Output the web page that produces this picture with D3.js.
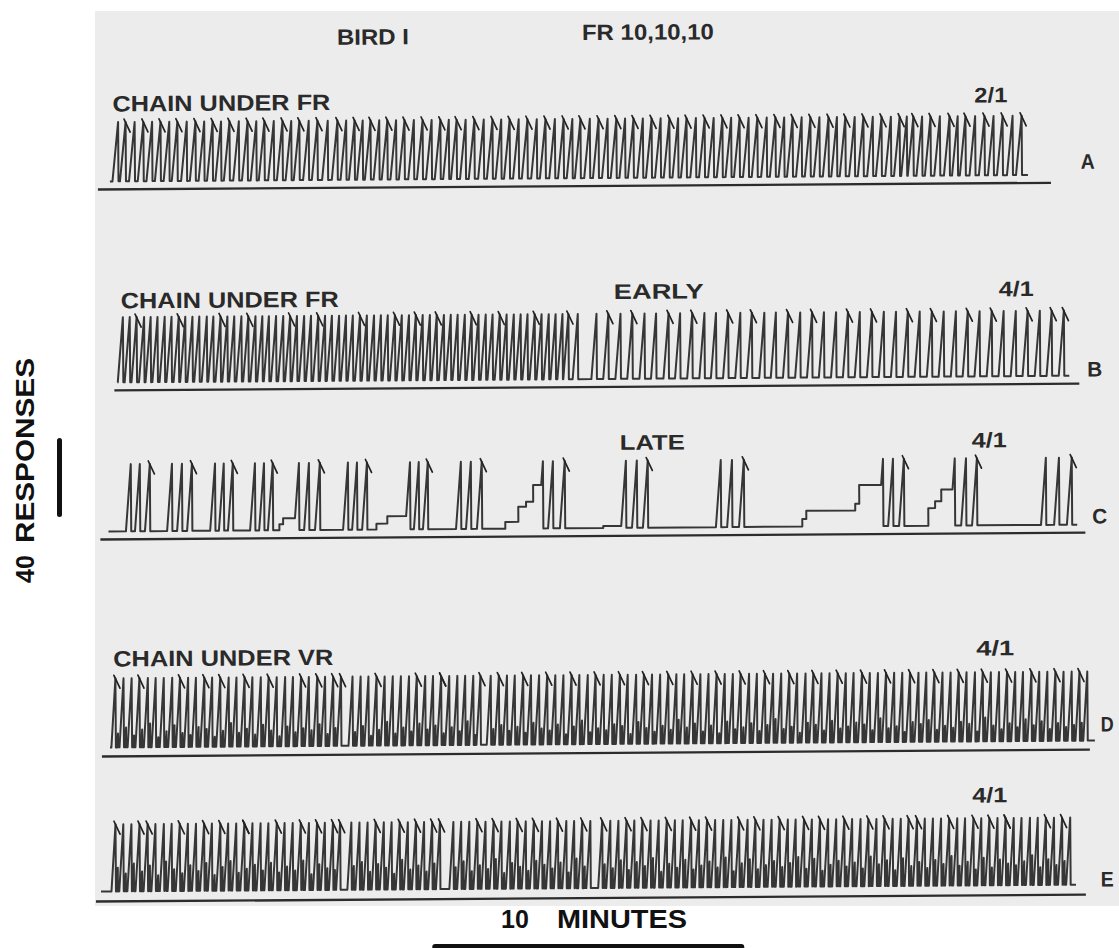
<!DOCTYPE html>
<html><head><meta charset="utf-8">
<script src="https://cdn.jsdelivr.net/npm/d3@7"></script>
<style>html,body{margin:0;padding:0;background:#fff;} svg{display:block;}</style>
</head><body>
<svg id="chart" width="1119" height="948"></svg>
<script>
// ---------------- DATA (time in minutes, pen height in responses) ----------------
const headerTexts = ["BIRD I", "FR 10,10,10"];
const panelLetters = ["A", "B", "C", "D", "E"];
const panelDates = ["2/1", "4/1", "4/1", "4/1", "4/1"];
const panelTitles = ["CHAIN UNDER FR", "CHAIN UNDER FR", "", "CHAIN UNDER VR", ""];
const panelNotes = ["", "EARLY", "LATE", "", ""];
const axisLabelY = ["40", "RESPONSES"];
const axisLabelX = ["10", "MINUTES"];
const scaleResponses = 40;
const scaleMinutes = 10;

// typical pen excursion height (responses) per record
const excursionHeight = [30, 33, 34, 35, 34];
// running rate (responses / min) per record
const runRate = [155, 185, 200, 243, 236];
// record start / end (min)
const recordStart = [0.385, 0.58, 0.26, 0.26, -0.06];
const recordEnd = [29.81, 31.09, 31.31, 31.83, 31.19];

// A: resets (reinforcements) without / with hatch mark
const aPlain = [0.66,1.19,1.75,2.30,2.86,3.42,3.96,4.53,5.09,5.65,6.21,6.77,7.38,7.97,8.50,9.03,9.57,10.14,10.71,11.26,11.80,12.38,12.94,13.50,14.08,14.66,15.22,15.78,16.35,16.91,17.48,18.05,18.61,19.18,19.75,20.31,20.87,21.45,22.01,22.57,23.14,23.70,24.27,24.85,25.43,25.94,26.43,27.00,27.57,28.13,28.72,29.33];
const aHook = [0.90,1.47,2.02,2.56,3.14,3.69,4.23,4.81,5.35,5.93,6.47,7.05,7.69,8.24,8.75,9.29,9.84,10.42,10.99,11.51,12.08,12.66,13.21,13.78,14.36,14.94,15.48,16.06,16.63,17.18,17.76,18.33,18.88,19.46,20.03,20.58,21.15,21.73,22.28,22.85,23.43,23.97,24.55,25.13,25.71,26.15,26.70,27.31,27.82,28.43,29.01,29.62];

// B
const bPlain = [0.77,0.99,1.45,1.66,1.88,2.11,2.33,2.77,3.00,3.22,3.46,3.67,4.12,4.34,4.57,5.02,5.24,5.45,5.68,5.91,6.35,6.58,6.80,7.25,7.47,7.70,7.92,8.14,8.59,8.82,9.04,9.26,9.71,9.94,10.38,10.61,11.06,11.28,11.50,11.73,12.17,12.40,12.62,13.07,13.30,13.52,13.74,14.19,14.42,14.64,14.86,15.35,
  15.95,16.72,17.49,17.86,18.63,19.41,19.78,20.56,21.33,21.70,22.48,23.24,23.63,24.39,25.16,25.55,26.31,27.08,27.47,28.23,29.00,29.39,30.16];
const bHook = [1.21,2.56,3.90,4.79,6.13,7.03,8.37,9.49,10.16,10.83,11.95,12.85,13.97,15.05,
  16.33,17.10,18.26,19.02,20.17,20.93,22.09,22.86,24.01,24.78,25.93,26.70,27.85,28.62,29.77,30.54,30.93];

// C (late): bursts separated by pauses, with slow stair-steps during pauses
const cPlain = [0.99,1.28,2.31,2.63,3.69,3.97,4.97,5.26,6.38,6.70,7.95,8.24,9.94,10.22,11.57,11.89,14.20,14.52,16.86,17.21,19.90,20.26,25.10,25.42,27.40,27.76,30.32,30.74];
const cHook = [1.60,2.95,4.26,5.54,7.05,8.56,10.51,12.24,14.90,17.56,20.64,25.77,28.11,31.15];
const cSteps = [[5.74,3],[5.86,6],[8.85,3],[9.20,6.7],[12.98,3.4],[13.40,11],[13.65,13.5],[13.88,22],[16.12,1],[22.50,3.8],[22.63,8],[24.20,11.4],[24.33,20.8],[26.54,8.9],[26.76,12.3],[26.96,18.3]];

// D (VR): tall excursions, short bursts before each, hatch marks
const dTall = [0.45,0.71,0.97,1.22,1.49,1.74,2.00,2.27,2.52,2.78,3.03,3.30,3.55,3.81,4.08,4.33,4.59,4.84,5.11,5.36,5.62,5.89,6.14,6.40,6.65,6.92,7.17,7.43,7.68,8.05,8.31,8.56,8.82,9.08,9.34,9.60,9.86,10.11,10.38,10.63,10.89,11.15,11.41,11.66,11.92,12.15,12.48,12.74,13.00,13.25,13.52,13.77,14.03,14.29,14.55,14.81,15.07,15.32,15.59,15.84,16.10,16.36,16.62,16.87,17.14,17.39,17.65,17.91,18.17,18.43,18.68,18.95,19.20,19.46,19.72,19.98,20.24,20.49,20.76,21.01,21.27,21.53,21.79,22.05,22.30,22.57,22.82,23.08,23.34,23.60,23.86,24.11,24.38,24.63,24.89,25.15,25.41,25.67,25.92,26.19,26.44,26.70,26.96,27.22,27.48,27.73,28.00,28.25,28.51,28.77,29.03,29.29,29.54,29.81,30.06,30.32,30.58,30.84,31.10,31.35,31.60];
const dShort = [0,7,10,6,9,12,5,8,11,7, 6,10,9,5,8,12,7,9,6,11, 8,5,10,7,9,8,11,6,9,0, 7,10,5,8,12,6,9,7,11,8, 10,6,9,7,12,5,0,8,10,7, 9,6,11,8,7,10,5,9,12,6, 8,7,10,9,5,11,8,6,9,7, 12,8,10,6,9,5,11,7,8,10, 6,9,12,7,8,5,10,9,6,11, 7,8,10,9,6,12,7,8,5,10, 9,11,6,8,7,10,9,5,12,8, 6,9,7,11,8,10,6,9,7,8,9];
const dHook = [0.48,1.28,2.47,3.21,3.75,4.49,5.45,6.31,6.83,7.47,7.69,8.88,10.03,10.80,10.99,12.08,12.74,13.52,14.29,15.07,15.84,16.62,17.39,18.17,18.95,19.72,20.49,21.27,22.05,22.82,23.60,24.38,25.15,25.92,26.70,27.48,28.25,29.03,29.81,30.58,31.35];

// E (VR)
const eTall = [0.42,0.67,0.93,1.19,1.45,1.70,1.97,2.22,2.48,2.74,3.00,3.26,3.51,3.78,4.03,4.29,4.55,4.81,5.07,5.32,5.59,5.84,6.10,6.36,6.62,6.88,7.13,7.39,7.62,7.98,8.24,8.50,8.76,9.02,9.27,9.53,9.79,10.05,10.31,10.57,10.82,11.25,11.50,11.76,12.02,12.28,12.54,12.79,13.06,13.31,13.57,13.83,14.09,14.35,14.60,14.87,15.12,15.38,15.64,16.02,16.28,16.54,16.80,17.05,17.31,17.57,17.83,18.09,18.35,18.60,18.87,19.12,19.38,19.64,19.90,20.16,20.41,20.68,20.93,21.19,21.45,21.71,21.97,22.22,22.49,22.74,23.00,23.26,23.52,23.78,24.03,24.30,24.55,24.81,25.07,25.33,25.59,25.84,26.11,26.36,26.62,26.88,27.14,27.40,27.65,27.92,28.17,28.43,28.69,28.95,29.21,29.46,29.73,29.98,30.24,30.50,30.76,31.02];
const eShort = [0,12,9,14,10,13,8,15,11,9, 13,10,14,8,12,15,9,11,13,10, 14,9,12,10,15,8,13,11,10,0, 12,14,9,13,11,8,15,10,12,9, 13,0,11,14,9,12,10,15,8,13, 11,9,14,12,10,13,8,15,11,0, 12,10,14,9,13,11,15,8,12,10, 14,9,11,13,10,15,8,12,14,9, 11,13,10,12,15,9,14,8,11,13, 10,12,9,15,11,13,8,14,10,12, 9,13,11,15,10,12,8,14,9,13, 11,10,12,15,9,13,10,12];
const eHook = [0.48,1.12,1.38,2.50,3.37,3.78,4.42,4.65,5.67,6.41,6.89,7.47,7.60,8.75,9.55,10.03,10.67,10.83,11.92,12.56,13.30,13.90,14.60,15.30,16.10,16.70,17.40,18.20,18.80,19.50,20.30,20.90,21.60,22.40,23.00,23.70,24.50,25.10,25.87,26.06,27.08,27.88,28.30,28.91,29.07,30.13,30.87];

// ---------------- LAYOUT ----------------
const INK = "#222";
const FONT = "'Liberation Sans', Arial, Helvetica, sans-serif";
const layout = [
  {base:178, line:186, lineX:[100,1053], title:[115,108,218], note:null, date:[977,105,33], letter:[1083,172,14]},
  {base:379, line:387, lineX:[115,1080], title:[122,305,218], note:[615,299,90], date:[1000,299,35], letter:[1088,380,15]},
  {base:528, line:536, lineX:[100,1085], title:null, note:[620,450,65], date:[972,450,35], letter:[1092,527,15]},
  {base:744, line:753, lineX:[100,1088], title:[112,663,220], note:null, date:[975,658,38], letter:[1099,735,13]},
  {base:888, line:898, lineX:[93,1083], title:null, note:null, date:[970,805,35], letter:[1098,890,13]}
];
const records = [
  {ends:aPlain.concat(aHook), hooks:aHook, steps:[], shorts:null},
  {ends:bPlain.concat(bHook), hooks:bHook, steps:[], shorts:null},
  {ends:cPlain.concat(cHook), hooks:cHook, steps:cSteps, shorts:null},
  {ends:dTall, hooks:dHook, steps:[], shorts:dShort},
  {ends:eTall, hooks:eHook, steps:[], shorts:eShort}
];

const svg = d3.select("#chart");
svg.append("rect").attr("x",95).attr("y",11).attr("width",1024).attr("height",895).attr("fill","#ececec");

const page = svg.append("g").attr("transform","rotate(-0.4,600,480)");
const x = d3.scaleLinear().domain([0,32]).range([100,1098.4]);
const yR = d3.scaleLinear().domain([0,40]).range([0,-79]);

function txt(parent, s, xx, yy, w, size){
  const t = parent.append("text").attr("x",xx).attr("y",yy).text(s)
    .attr("font-family",FONT).attr("font-weight","bold").attr("font-size",size)
    .attr("fill","#2a2a2a");
  if (w) t.attr("textLength",w).attr("lengthAdjust","spacingAndGlyphs");
  return t;
}

txt(page, headerTexts[0], 340, 43, 72, 22);
txt(page, headerTexts[1], 585, 40, 132, 22);

records.forEach((rec, k) => {
  const L = layout[k];
  const H = excursionHeight[k], R = runRate[k];
  const ev = [];
  rec.ends.forEach(t => ev.push({t, kind:"ex"}));
  rec.steps.forEach(s => ev.push({t:s[0], kind:"st", lv:s[1]}));
  ev.sort((a,b)=>a.t-b.t);
  const pts = [[recordStart[k],0]];
  let lv = 0, cur = recordStart[k], exIdx = 0;
  ev.forEach(e => {
    if (e.kind === "st") { pts.push([e.t,lv],[e.t,e.lv]); lv = e.lv; cur = e.t; return; }
    const run = (H - lv) / R;
    const s = Math.max(cur, e.t - run);
    if (rec.shorts && lv === 0) {
      const sh = rec.shorts[exIdx] || 0;
      const gap = s - cur;
      if (sh > 0 && gap > 0.03) {
        const se = cur + gap*0.6, ss = Math.max(cur, se - sh/R);
        pts.push([ss,0],[se,sh],[se,0]);
      }
    }
    pts.push([s,lv],[e.t,H],[e.t,0]);
    lv = 0; cur = e.t; exIdx++;
  });
  pts.push([recordEnd[k],0]);

  const line = d3.line().x(d=>x(d[0])).y(d=>L.base + yR(d[1]));
  page.append("path").attr("d", line(pts)).attr("fill","none")
    .attr("stroke",INK).attr("stroke-width",2).attr("stroke-linejoin","round").attr("opacity",0.9);

  // hatch marks (snapped to nearest reset)
  const sortedEnds = rec.ends.slice().sort((a,b)=>a-b);
  const bis = d3.bisector(d=>d).center;
  const top = L.base + yR(H);
  page.append("g").selectAll("line").data(rec.hooks).join("line")
    .attr("x1", t => x(sortedEnds[bis(sortedEnds,t)]) - 1.5)
    .attr("y1", top - 3)
    .attr("x2", t => x(sortedEnds[bis(sortedEnds,t)]) + 4.5)
    .attr("y2", top + 10)
    .attr("stroke",INK).attr("stroke-width",1.7).attr("stroke-linecap","round");

  // event/baseline line
  page.append("line").attr("x1",L.lineX[0]).attr("x2",L.lineX[1]).attr("y1",L.line).attr("y2",L.line)
    .attr("stroke","#2c2c2c").attr("stroke-width",2.4);

  if (L.title && panelTitles[k]) txt(page, panelTitles[k], L.title[0], L.title[1], L.title[2], 22);
  if (L.note && panelNotes[k]) txt(page, panelNotes[k], L.note[0], L.note[1], L.note[2], 21);
  txt(page, panelDates[k], L.date[0], L.date[1], L.date[2], 21);
  txt(page, panelLetters[k], L.letter[0], L.letter[1], L.letter[2], 21);
});

// response scale
const yl = svg.append("g").attr("transform","translate(34,583) rotate(-90)");
txt(yl, axisLabelY[0], 0, 0, null, 25).attr("fill","#111");
txt(yl, axisLabelY[1], 40, 0, 185, 25).attr("fill","#111");
svg.append("rect").attr("x",57).attr("y",438).attr("width",5).attr("height",-yR(scaleResponses))
  .attr("rx",2.5).attr("fill","#111");

// time scale
txt(svg, axisLabelX[0], 501, 928, null, 25).attr("fill","#111");
txt(svg, axisLabelX[1], 557, 928, 130, 25).attr("fill","#111");
const barStart = 10.65;
svg.append("rect").attr("x",x(barStart)).attr("y",944).attr("width",x(barStart+scaleMinutes)-x(barStart))
  .attr("height",10).attr("rx",3).attr("fill","#111");
</script>
</body></html>
